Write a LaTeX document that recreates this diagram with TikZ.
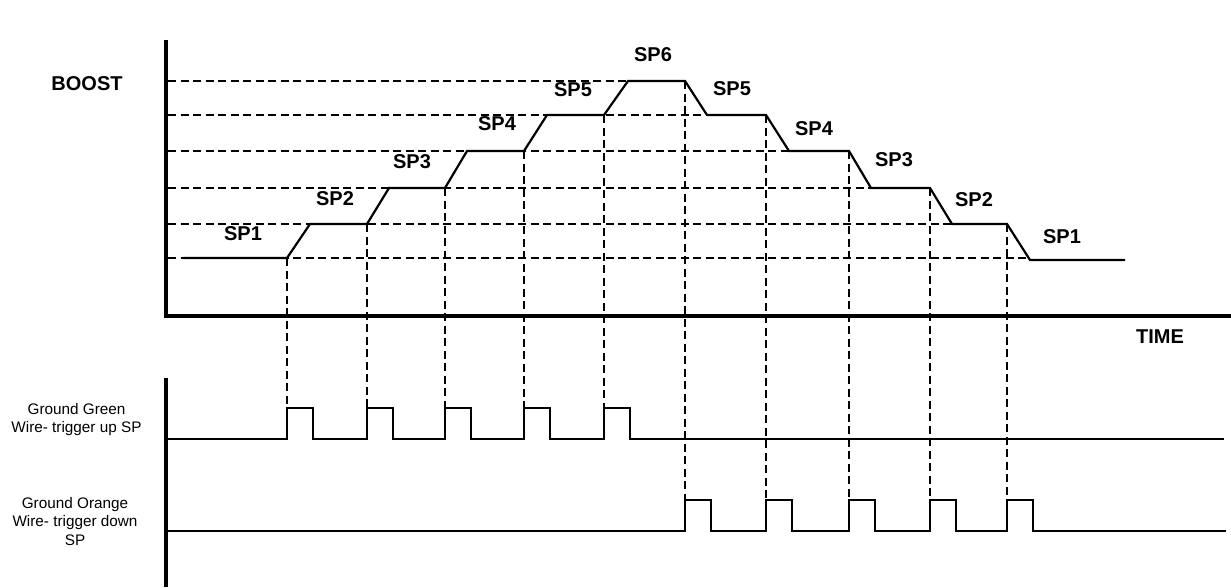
\documentclass[tikz,border=0pt]{standalone}
\usepackage{fontspec}
\setmainfont{Liberation Sans}
\usepackage{tikz}
\usetikzlibrary{positioning}

\begin{document}
\begin{tikzpicture}[x=1pt,y=-1pt,
    axis/.style={line width=3.3pt},
    sig/.style={line width=2.2pt,line join=miter},
    guide/.style={line width=2pt,dash pattern=on 8pt off 4.5pt},
    splabel/.style={font=\fontsize{20}{24}\selectfont\bfseries,inner sep=0pt},
    wirelabel/.style={font=\fontsize{15.3}{18.3}\selectfont,align=center,inner sep=0pt}]
        \useasboundingbox (0,0) rectangle (1231,587);
        % axes
        \draw[axis] (166,40) -- (166,316) -- (1231,316);
        \draw[axis] (166,378) -- (166,587);
        % level guides
        \foreach \y/\xe in {258/1030,224/952,188/871,151/789,115/707,81/628}
          \draw[guide] (168,\y) -- (\xe,\y);
        % transition guides
        \foreach \x/\ya in {287/258,367/224,445/188,524/151,604/115}
          \draw[guide] (\x,\ya) -- (\x,408);
        \foreach \x/\ya in {685/81,766/115,849/151,930/188,1007/224}
          \draw[guide] (\x,\ya) -- (\x,500);
        % boost profile
        \draw[sig] (183,258) -- (287,258) -- (310,224) -- (367,224) -- (389,188) -- (445,188)
          -- (467,151) -- (524,151) -- (547,115) -- (604,115) -- (628,81) -- (685,81)
          -- (707,115) -- (766,115) -- (789,151) -- (849,151) -- (871,188) -- (930,188)
          -- (952,224) -- (1007,224) -- (1030,260) -- (1125,260);
        % trigger pulses
        \draw[sig] (166,439) \foreach \x in {287,367,445,524,604}
          { -- (\x,439) -- (\x,408) -- (\x+26,408) -- (\x+26,439) } -- (1224,439);
        \draw[sig] (166,531) \foreach \x in {685,766,849,930,1007}
          { -- (\x,531) -- (\x,500) -- (\x+26,500) -- (\x+26,531) } -- (1226,531);
        % labels
        \node[splabel] (boost) at (87,84) {BOOST};
        \node[splabel] (time) at (1160,337) {TIME};
        \foreach \n/\x/\y/\t in {u1/243/234/SP1,u2/335/199/SP2,u3/412/162/SP3,u4/497/124/SP4,
            u5/573/90/SP5,top/653/55/SP6,d5/732/89/SP5,d4/814/129/SP4,d3/894/160/SP3,
            d2/974/200/SP2,d1/1062/237/SP1}
          \node[splabel] (sp\n) at (\x,\y) {\t};
        \node[wirelabel] (green) at (76.5,419.5) {Ground Green\\Wire- trigger up SP};
        \node[wirelabel] (orange) at (75,521.5) {Ground Orange\\Wire- trigger down\\SP};
      \end{tikzpicture}
\end{document}
